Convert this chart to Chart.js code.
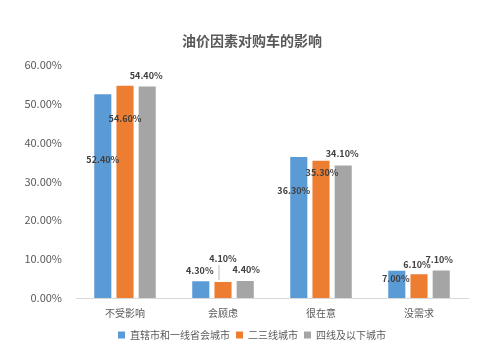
<!DOCTYPE html>
<html><head><meta charset="utf-8">
<script src="https://cdn.jsdelivr.net/npm/chart.js@4/dist/chart.umd.min.js"></script>
<style>html,body{margin:0;padding:0;background:#fff}#wrap{width:491px;height:359px}</style>
</head><body><div id="wrap"><canvas id="c" width="491" height="359"></canvas></div>
<script>
const categories = ['不受影响', '会顾虑', '很在意', '没需求'];
const seriesNames = ['直辖市和一线省会城市', '二三线城市', '四线及以下城市'];
const tier1 = [52.4, 4.3, 36.3, 7.0];
const tier23 = [54.6, 4.1, 35.3, 6.1];
const tier4 = [54.4, 4.4, 34.1, 7.1];
const yTicks = [0, 10, 20, 30, 40, 50, 60];

// label placement (style only): [dx, dy] relative to bar top centre
const labelOffsets = [
  [[0, 65], [-1, -11], [-5, 34], [-1, 8]],
  [[0, 33], [0, -23], [1, 12], [-2, -10]],
  [[-1, -11], [1, -11], [-1, -12], [-2, -11]]
];
const headShift = 18;

const FONT = '"Noto Sans CJK SC", "Noto Sans", sans-serif';

const shiftPlugin = {
  id: 'shiftBoxes',
  afterLayout(chart) {
    [chart.titleBlock, chart.legend].forEach(b => {
      if (b) { b.left += headShift; b.right += headShift; }
    });
  }
};

const labelPlugin = {
  id: 'barLabels',
  afterDatasetsDraw(chart) {
    const ctx = chart.ctx;
    ctx.save();
    ctx.font = 'bold 9px ' + FONT;
    ctx.fillStyle = '#404040';
    ctx.textAlign = 'center';
    ctx.textBaseline = 'middle';
    chart.data.datasets.forEach((ds, i) => {
      const meta = chart.getDatasetMeta(i);
      meta.data.forEach((el, j) => {
        const off = labelOffsets[i][j];
        const x = el.x + off[0], y = el.y + off[1];
        ctx.fillText(ds.data[j].toFixed(2) + '%', x, y);
        if (i === 1 && j === 1) {
          ctx.strokeStyle = '#a6a6a6';
          ctx.lineWidth = 0.8;
          ctx.beginPath();
          ctx.moveTo(el.x - 4, y + 6);
          ctx.lineTo(el.x - 4, el.y - 2);
          ctx.stroke();
        }
      });
    });
    ctx.restore();
  }
};

new Chart(document.getElementById('c'), {
  type: 'bar',
  data: {
    labels: categories,
    datasets: [
      { label: seriesNames[0], data: tier1, backgroundColor: '#5B9BD5' },
      { label: seriesNames[1], data: tier23, backgroundColor: '#ED7D31' },
      { label: seriesNames[2], data: tier4, backgroundColor: '#A5A5A5' }
    ]
  },
  options: {
    responsive: false,
    animation: false,
    devicePixelRatio: 1,
    layout: { padding: { left: 0, right: 23, top: 0, bottom: 9 } },
    datasets: { bar: { categoryPercentage: 0.68, barPercentage: 0.77 } },
    plugins: {
      title: {
        display: true,
        text: '油价因素对购车的影响',
        color: '#595959',
        font: { family: FONT, size: 14, weight: 'bold' },
        padding: { top: 32, bottom: 16 }
      },
      legend: {
        position: 'bottom',
        labels: {
          boxWidth: 7, boxHeight: 7, padding: 6,
          color: '#595959',
          font: { family: FONT, size: 10 }
        }
      },
      tooltip: { enabled: false }
    },
    scales: {
      x: {
        grid: { display: false },
        border: { color: '#d9d9d9' },
        afterFit(scale) { scale.height += 4; },
        ticks: { color: '#595959', font: { family: FONT, size: 10 }, padding: 1 }
      },
      y: {
        min: 0, max: 60,
        afterBuildTicks(scale) { scale.ticks = yTicks.map(v => ({ value: v })); },
        afterFit(scale) { scale.width = 76; },
        grid: { display: false },
        border: { display: false },
        ticks: {
          color: '#595959', font: { family: FONT, size: 11 }, padding: 6,
          callback: v => v.toFixed(2) + '%'
        }
      }
    }
  },
  plugins: [shiftPlugin, labelPlugin]
});
</script></body></html>
